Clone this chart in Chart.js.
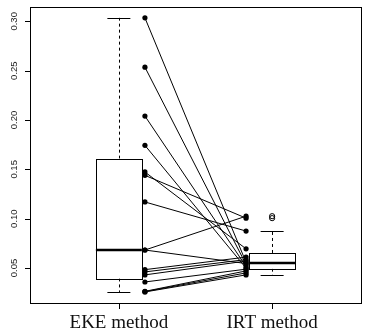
<!DOCTYPE html>
<html>
<head>
<meta charset="utf-8">
<script src="https://cdn.jsdelivr.net/npm/chart.js@4.4.1/dist/chart.umd.min.js"></script>
<style>
html,body{margin:0;padding:0;background:#fff;}
#c{display:block;}
</style>
</head>
<body>
<canvas id="c" width="366" height="330"></canvas>
<script>
// ---- data ----
const categories = ['EKE method', 'IRT method'];
const ekeValues = [0.3035, 0.2535, 0.2040, 0.1743, 0.1473, 0.1439, 0.1169, 0.0682, 0.0682, 0.0483, 0.0460, 0.0430, 0.0358, 0.0263, 0.0260, 0.0257];
const irtValues = [0.0557, 0.0535, 0.0515, 0.0498, 0.0694, 0.1005, 0.0874, 0.1025, 0.0545, 0.0610, 0.0585, 0.0570, 0.0488, 0.0470, 0.0450, 0.0430];
const yTickValues = [0.05, 0.10, 0.15, 0.20, 0.25, 0.30];
const yTickLabels = ['0.05', '0.10', '0.15', '0.20', '0.25', '0.30'];

// ---- positions (category slots) ----
const boxPos = [1, 2];
const pointPos = [1.17, 1.83];
const boxHalf = 0.15;

// Tukey five-number summary (as in R's boxplot)
function fivenum(arr) {
  const x = arr.slice().sort((a, b) => a - b);
  const n = x.length;
  const n4 = Math.floor((n + 3) / 2) / 2;
  const d = [1, n4, (n + 1) / 2, n + 1 - n4, n];
  return d.map(v => 0.5 * (x[Math.floor(v) - 1] + x[Math.ceil(v) - 1]));
}
function boxStats(arr) {
  const f = fivenum(arr);
  const iqr = f[3] - f[1];
  const lo = f[1] - 1.5 * iqr, hi = f[3] + 1.5 * iqr;
  const inside = arr.filter(v => v >= lo && v <= hi);
  return {
    q1: f[1], med: f[2], q3: f[3],
    wlo: Math.min(...inside), whi: Math.max(...inside),
    out: arr.filter(v => v < lo || v > hi)
  };
}
const stats = [boxStats(ekeValues), boxStats(irtValues)];

// ---- datasets ----
const datasets = [];
for (let i = 0; i < ekeValues.length; i++) {
  datasets.push({
    type: 'line',
    data: [{x: pointPos[0], y: ekeValues[i]}, {x: pointPos[1], y: irtValues[i]}],
    borderColor: '#000', borderWidth: 1, pointRadius: 0, fill: false, tension: 0
  });
}
datasets.push({
  type: 'scatter',
  data: ekeValues.map(v => ({x: pointPos[0], y: v})),
  backgroundColor: '#000', borderColor: '#000', pointRadius: 2.6, borderWidth: 0
});
datasets.push({
  type: 'scatter',
  data: irtValues.map(v => ({x: pointPos[1], y: v})),
  backgroundColor: '#000', borderColor: '#000', pointRadius: 2.6, borderWidth: 0
});

const boxPlugin = {
  id: 'boxes',
  beforeDatasetsDraw(chart) {
    const ctx = chart.ctx, xs = chart.scales.x, ys = chart.scales.y;
    ctx.save();
    stats.forEach((s, i) => {
      const xl = xs.getPixelForValue(boxPos[i] - boxHalf);
      const xr = xs.getPixelForValue(boxPos[i] + boxHalf);
      const xc = xs.getPixelForValue(boxPos[i]);
      const sl = xs.getPixelForValue(boxPos[i] - boxHalf / 2);
      const sr = xs.getPixelForValue(boxPos[i] + boxHalf / 2);
      const yq1 = ys.getPixelForValue(s.q1), yq3 = ys.getPixelForValue(s.q3);
      const ym = ys.getPixelForValue(s.med);
      const ylo = ys.getPixelForValue(s.wlo), yhi = ys.getPixelForValue(s.whi);
      ctx.strokeStyle = '#000';
      // whiskers dashed
      ctx.lineWidth = 1;
      ctx.setLineDash([3, 3]);
      ctx.beginPath();
      ctx.moveTo(Math.round(xc) + 0.5, yq3); ctx.lineTo(Math.round(xc) + 0.5, yhi);
      ctx.moveTo(Math.round(xc) + 0.5, yq1); ctx.lineTo(Math.round(xc) + 0.5, ylo);
      ctx.stroke();
      ctx.setLineDash([]);
      // staples
      ctx.beginPath();
      ctx.moveTo(sl, Math.round(yhi) + 0.5); ctx.lineTo(sr, Math.round(yhi) + 0.5);
      ctx.moveTo(sl, Math.round(ylo) + 0.5); ctx.lineTo(sr, Math.round(ylo) + 0.5);
      ctx.stroke();
      // box
      ctx.fillStyle = '#fff';
      ctx.fillRect(xl, yq3, xr - xl, yq1 - yq3);
      ctx.strokeRect(Math.round(xl) + 0.5, Math.round(yq3) + 0.5, Math.round(xr - xl), Math.round(yq1 - yq3));
      // median
      ctx.lineWidth = 2.5;
      ctx.beginPath();
      ctx.moveTo(xl, ym); ctx.lineTo(xr, ym);
      ctx.stroke();
      // outliers
      ctx.lineWidth = 1;
      s.out.forEach(v => {
        ctx.beginPath();
        ctx.arc(xc, ys.getPixelForValue(v), 2.6, 0, Math.PI * 2);
        ctx.stroke();
      });
    });
    ctx.restore();
  },
  afterDraw(chart) {
    const ctx = chart.ctx, xs = chart.scales.x, ys = chart.scales.y, a = chart.chartArea;
    ctx.save();
    ctx.strokeStyle = '#000';
    ctx.lineWidth = 1;
    ctx.strokeRect(Math.round(a.left) + 0.5, Math.round(a.top) + 0.5, Math.round(a.right - a.left), Math.round(a.bottom - a.top));
    // y ticks
    ctx.beginPath();
    yTickValues.forEach(v => {
      const y = Math.round(ys.getPixelForValue(v)) + 0.5;
      ctx.moveTo(a.left, y); ctx.lineTo(a.left - 5, y);
    });
    ctx.stroke();
    ctx.fillStyle = '#222';
    ctx.font = '9.5px "Liberation Sans", Arial, sans-serif';
    ctx.textAlign = 'center';
    ctx.textBaseline = 'alphabetic';
    yTickValues.forEach((v, i) => {
      const y = ys.getPixelForValue(v);
      ctx.save();
      ctx.translate(16.8, y);
      ctx.rotate(-Math.PI / 2);
      ctx.fillText(yTickLabels[i], 0, 0);
      ctx.restore();
    });
    // x ticks
    ctx.beginPath();
    boxPos.forEach(p => {
      const x = Math.round(xs.getPixelForValue(p)) + 0.5;
      ctx.moveTo(x, a.bottom); ctx.lineTo(x, a.bottom + 6);
    });
    ctx.stroke();
    ctx.fillStyle = '#111';
    ctx.font = '19px "Liberation Serif", "DejaVu Serif", serif';
    boxPos.forEach((p, i) => {
      ctx.fillText(categories[i], xs.getPixelForValue(p), 328);
    });
    ctx.restore();
  }
};

new Chart(document.getElementById('c'), {
  data: { datasets },
  options: {
    responsive: false,
    animation: false,
    events: [],
    layout: { padding: { left: 30, right: 5, top: 7, bottom: 27 } },
    plugins: { legend: { display: false }, tooltip: { enabled: false } },
    scales: {
      x: { type: 'linear', display: false, min: 0.42, max: 2.58 },
      y: { type: 'linear', display: false, min: 0.0145, max: 0.3145 }
    }
  },
  plugins: [boxPlugin]
});
</script>
</body>
</html>
